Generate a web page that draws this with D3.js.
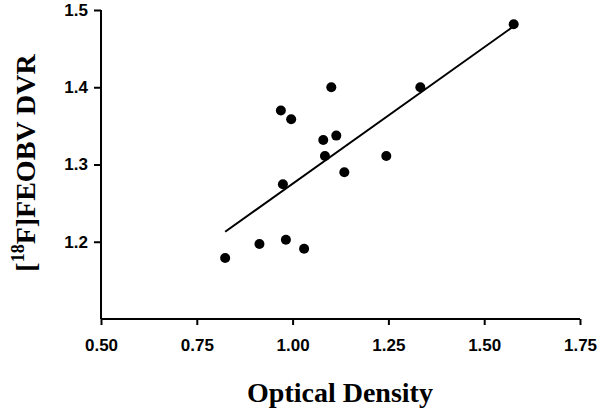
<!DOCTYPE html>
<html>
<head>
<meta charset="utf-8">
<script src="https://cdn.jsdelivr.net/npm/d3@7"></script>
<style>
html,body{margin:0;padding:0;background:#fff;}
svg{display:block;}
</style>
</head>
<body>
<svg id="chart" width="600" height="411"></svg>
<script>
// Data
const opticalDensity = [0.824, 0.9135, 0.9825, 1.030, 0.9747, 0.9694, 0.9963, 1.080, 1.114, 1.0844, 1.101, 1.135, 1.2445, 1.3333, 1.577];
const feobvDVR      = [1.179, 1.197, 1.2025, 1.191, 1.2745, 1.370, 1.3586, 1.3318, 1.3374, 1.311, 1.400, 1.290, 1.311, 1.400, 1.4815];
const fitX = [0.824, 1.577];
const fitY = [1.213, 1.479];
const xTicks = [0.50, 0.75, 1.00, 1.25, 1.50, 1.75];
const yTicks = [1.2, 1.3, 1.4, 1.5];

const svg = d3.select("#chart");
const x = d3.scaleLinear().domain([0.5, 1.75]).range([101, 580]);
const y = d3.scaleLinear().domain([1.1, 1.5]).range([319, 10]);

const points = opticalDensity.map((d, i) => ({x: d, y: feobvDVR[i]}));

// axes
const xAxis = d3.axisBottom(x).tickValues(xTicks).tickFormat(d3.format(".2f")).tickSizeOuter(0).tickSize(6).tickPadding(14);
const yAxis = d3.axisLeft(y).tickValues(yTicks).tickFormat(d3.format(".1f")).tickSizeOuter(0).tickSize(7).tickPadding(6);

const gx = svg.append("g").attr("transform", "translate(0,319)").call(xAxis);
const gy = svg.append("g").attr("transform", "translate(101,0)").call(yAxis);

[gx, gy].forEach(g => {
  g.select(".domain").attr("stroke", "#000").attr("stroke-width", 2);
  g.selectAll(".tick line").attr("stroke", "#000").attr("stroke-width", 2);
  g.selectAll(".tick text")
    .attr("fill", "#000")
    .style("font-family", "Liberation Sans, Arial, sans-serif")
    .style("font-weight", "bold")
    .style("font-size", "17px");
});
// y domain should span from the x-axis up to top tick
gy.select(".domain").attr("d", `M0,${y(1.5)}V${y(1.1)}`);
gx.select(".domain").attr("d", `M${x(0.5)},0H${x(1.75)}`);

// regression line
svg.append("line")
  .attr("x1", x(fitX[0])).attr("y1", y(fitY[0]))
  .attr("x2", x(fitX[1])).attr("y2", y(fitY[1]))
  .attr("stroke", "#000").attr("stroke-width", 2);

// points
svg.append("g").selectAll("circle").data(points).join("circle")
  .attr("cx", d => x(d.x)).attr("cy", d => y(d.y))
  .attr("r", 5).attr("fill", "#000");

// x label
svg.append("text")
  .attr("x", 340).attr("y", 402)
  .attr("text-anchor", "middle")
  .style("font-family", "Liberation Serif, Times New Roman, serif")
  .style("font-weight", "bold")
  .style("font-size", "28px")
  .attr("fill", "#000")
  .text("Optical Density");

// y label
const yl = svg.append("text")
  .attr("transform", "translate(35,163) rotate(-90)")
  .attr("text-anchor", "middle")
  .style("font-family", "Liberation Serif, Times New Roman, serif")
  .style("font-weight", "bold")
  .style("font-size", "28px")
  .attr("fill", "#000");
yl.append("tspan").text("[");
yl.append("tspan").attr("dy", -11).style("font-size", "18px").text("18");
yl.append("tspan").attr("dy", 11).text("F]FEOBV DVR");
</script>
</body>
</html>
